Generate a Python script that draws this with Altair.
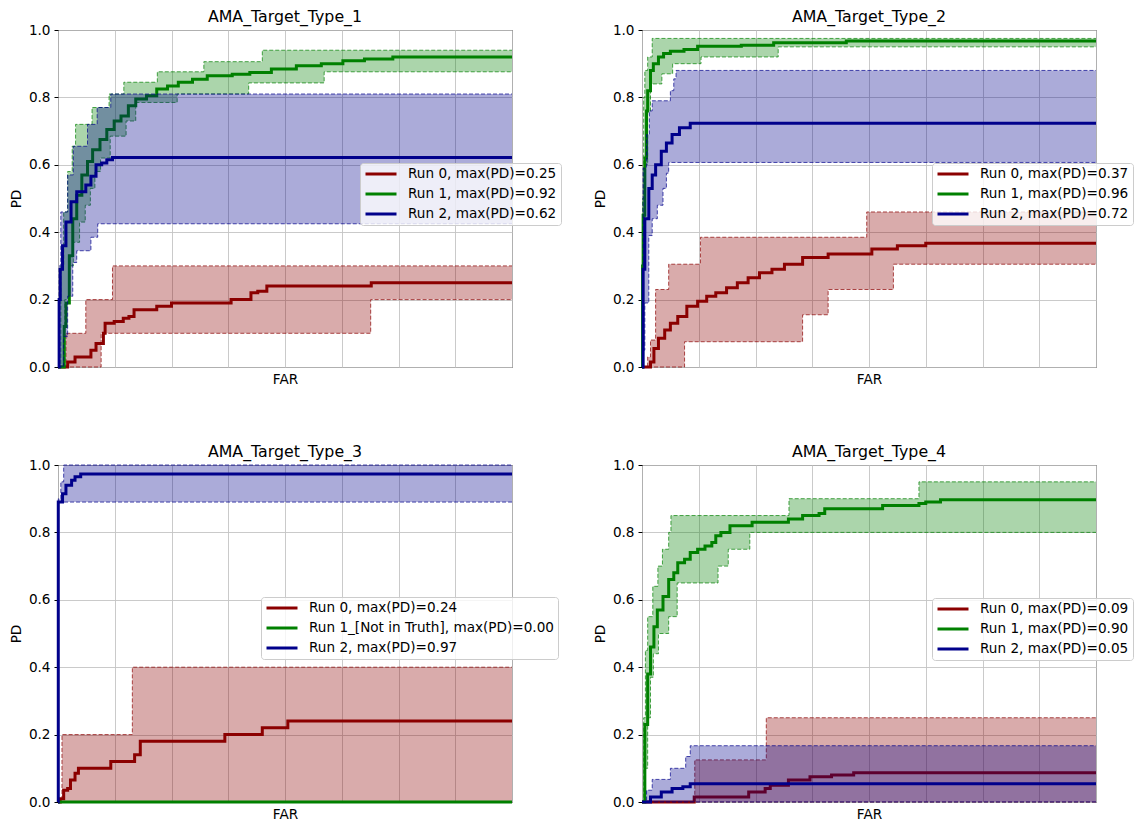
import altair as alt
import pandas as pd

# ---------------- data (FAR in grid units 0..8, PD 0..1) ----------------
FAR_TICKS = [0, 1, 2, 3, 4, 5, 6, 7, 8]
PD_TICKS = [0.0, 0.2, 0.4, 0.6, 0.8, 1.0]
RUN_COLORS = ["#8b0000", "#008000", "#00008b"]

TITLES = ["AMA_Target_Type_1", "AMA_Target_Type_2", "AMA_Target_Type_3", "AMA_Target_Type_4"]

LABELS_T1 = ["Run 0, max(PD)=0.25", "Run 1, max(PD)=0.92", "Run 2, max(PD)=0.62"]
LABELS_T2 = ["Run 0, max(PD)=0.37", "Run 1, max(PD)=0.96", "Run 2, max(PD)=0.72"]
LABELS_T3 = ["Run 0, max(PD)=0.24", "Run 1_[Not in Truth], max(PD)=0.00", "Run 2, max(PD)=0.97"]
LABELS_T4 = ["Run 0, max(PD)=0.09", "Run 1, max(PD)=0.90", "Run 2, max(PD)=0.05"]

# --- Target type 1 ---
T1_R0_MEAN = [(0, 0), (0.17, 0.015), (0.3, 0.03), (0.58, 0.05), (0.67, 0.07), (0.8, 0.10), (0.83, 0.13),
              (0.99, 0.135), (1.15, 0.145), (1.25, 0.15), (1.34, 0.17), (1.74, 0.18), (2.0, 0.19),
              (3.05, 0.2), (3.4, 0.22), (3.52, 0.225), (3.68, 0.24), (5.52, 0.25), (8, 0.25)]
T1_R0_HI = [(0, 0), (0.14, 0.1), (0.49, 0.2), (0.96, 0.3), (8, 0.3)]
T1_R0_LO = [(0, 0), (0.76, 0.1), (5.51, 0.2), (8, 0.2)]

T1_R1_MEAN = [(0, 0), (0.08, 0.0), (0.11, 0.12), (0.14, 0.19), (0.2, 0.33), (0.26, 0.44), (0.33, 0.51),
              (0.42, 0.57), (0.52, 0.61), (0.61, 0.645), (0.74, 0.675), (0.86, 0.705), (0.99, 0.73),
              (1.11, 0.745), (1.24, 0.775), (1.37, 0.795), (1.56, 0.805), (1.74, 0.825), (1.93, 0.834),
              (2.12, 0.845), (2.37, 0.854), (2.63, 0.864), (3.07, 0.869), (3.38, 0.874), (3.76, 0.884),
              (4.2, 0.894), (4.64, 0.9), (5.02, 0.909), (5.4, 0.914), (5.9, 0.92), (8, 0.92)]
T1_R1_HI = [(0, 0), (0.05, 0.3), (0.1, 0.46), (0.17, 0.58), (0.25, 0.655), (0.31, 0.72), (0.6, 0.77),
            (0.9, 0.81), (1.16, 0.845), (1.75, 0.876), (2.57, 0.906), (3.6, 0.94), (8, 0.94)]
T1_R1_LO = [(0, 0), (0.1, 0.0), (0.12, 0.2), (0.2, 0.3), (0.27, 0.37), (0.38, 0.43), (0.48, 0.48),
            (0.57, 0.53), (0.65, 0.58), (0.75, 0.62), (0.92, 0.685), (1.2, 0.73), (1.37, 0.785),
            (2.1, 0.81), (3.36, 0.843), (4.69, 0.876), (8, 0.876)]

T1_R2_MEAN = [(0, 0), (0.02, 0.2), (0.04, 0.29), (0.08, 0.36), (0.14, 0.43), (0.23, 0.49), (0.33, 0.52),
              (0.49, 0.54), (0.58, 0.566), (0.67, 0.6), (0.77, 0.605), (0.86, 0.615), (0.96, 0.622), (8, 0.622)]
T1_R2_HI = [(0, 0), (0.02, 0.3), (0.05, 0.46), (0.17, 0.57), (0.27, 0.655), (0.52, 0.72), (0.69, 0.77),
            (0.93, 0.81), (8, 0.81)]
T1_R2_LO = [(0, 0), (0.08, 0.0), (0.1, 0.09), (0.17, 0.21), (0.26, 0.31), (0.33, 0.345), (0.58, 0.385),
            (0.7, 0.425), (8, 0.425)]

# --- Target type 2 ---
T2_R0_MEAN = [(0, 0), (0.08, 0), (0.15, 0.015), (0.21, 0.055), (0.29, 0.085), (0.4, 0.11), (0.5, 0.13),
              (0.63, 0.15), (0.79, 0.18), (0.98, 0.195), (1.14, 0.21), (1.3, 0.22), (1.49, 0.235),
              (1.68, 0.25), (1.87, 0.265), (2.07, 0.28), (2.29, 0.29), (2.51, 0.305), (2.83, 0.325),
              (3.28, 0.335), (4.05, 0.35), (4.5, 0.36), (5.0, 0.367), (8, 0.367)]
T2_R0_HI = [(0, 0), (0.1, 0.03), (0.15, 0.08), (0.24, 0.23), (0.47, 0.305), (1.03, 0.385), (3.96, 0.46), (8, 0.46)]
T2_R0_LO = [(0, 0), (0.75, 0.075), (2.83, 0.155), (3.28, 0.23), (4.43, 0.305), (8, 0.305)]

T2_R1_MEAN = [(0, 0), (0.01, 0.3), (0.02, 0.45), (0.05, 0.62), (0.08, 0.76), (0.1, 0.82), (0.15, 0.88),
              (0.2, 0.9), (0.29, 0.92), (0.38, 0.93), (0.5, 0.937), (0.74, 0.942), (0.98, 0.952),
              (1.75, 0.955), (2.32, 0.962), (3.6, 0.967), (8, 0.967)]
T2_R1_HI = [(0, 0), (0.01, 0.5), (0.03, 0.8), (0.05, 0.88), (0.1, 0.92), (0.18, 0.975), (8, 0.975)]
T2_R1_LO = [(0, 0), (0.02, 0.3), (0.05, 0.6), (0.1, 0.76), (0.15, 0.84), (0.35, 0.87), (0.54, 0.9),
            (1.04, 0.92), (2.4, 0.95), (8, 0.95)]

T2_R2_MEAN = [(0, 0), (0.02, 0.29), (0.05, 0.44), (0.12, 0.53), (0.18, 0.57), (0.24, 0.6), (0.34, 0.64),
              (0.43, 0.665), (0.53, 0.69), (0.66, 0.71), (0.85, 0.723), (8, 0.723)]
T2_R2_HI = [(0, 0), (0.02, 0.59), (0.08, 0.69), (0.13, 0.76), (0.18, 0.79), (0.5, 0.82), (0.56, 0.855),
            (0.6, 0.88), (8, 0.88)]
T2_R2_LO = [(0, 0), (0.02, 0.05), (0.05, 0.19), (0.12, 0.39), (0.18, 0.44), (0.27, 0.48), (0.37, 0.53),
            (0.43, 0.575), (0.47, 0.607), (8, 0.607)]

# --- Target type 3 ---
T3_R0_MEAN = [(0, 0), (0.04, 0.01), (0.1, 0.035), (0.17, 0.04), (0.22, 0.065), (0.3, 0.085), (0.36, 0.1),
              (0.93, 0.12), (1.35, 0.14), (1.45, 0.18), (2.94, 0.2), (3.6, 0.22), (4.05, 0.24), (8, 0.24)]
T3_R0_HI = [(0, 0), (0.07, 0.2), (1.31, 0.4), (8, 0.4)]
T3_R0_LO = [(0, 0), (8, 0)]

T3_R1_MEAN = [(0, 0), (8, 0)]

T3_R2_MEAN = [(0, 0), (0.005, 0.89), (0.08, 0.915), (0.14, 0.94), (0.24, 0.955), (0.3, 0.965),
              (0.4, 0.973), (8, 0.973)]
T3_R2_HI = [(0, 0), (0.005, 0.9), (0.05, 0.95), (0.1, 1.0), (8, 1.0)]
T3_R2_LO = [(0, 0), (0.005, 0.89), (8, 0.89)]

# --- Target type 4 ---
T4_R0_MEAN = [(0, 0), (0.92, 0.015), (1.88, 0.03), (2.17, 0.04), (2.26, 0.05), (2.58, 0.065),
              (2.96, 0.075), (3.34, 0.08), (3.73, 0.087), (8, 0.087)]
T4_R0_HI = [(0, 0), (0.93, 0.125), (2.19, 0.25), (8, 0.25)]
T4_R0_LO = [(0, 0), (8, 0)]

T4_R1_MEAN = [(0, 0), (0.02, 0.0), (0.05, 0.23), (0.1, 0.38), (0.15, 0.46), (0.21, 0.52), (0.27, 0.57),
              (0.37, 0.61), (0.47, 0.66), (0.56, 0.68), (0.63, 0.71), (0.75, 0.72), (0.85, 0.74),
              (0.98, 0.75), (1.11, 0.76), (1.23, 0.77), (1.3, 0.79), (1.39, 0.8), (1.55, 0.82),
              (1.94, 0.83), (2.58, 0.84), (2.83, 0.85), (3.12, 0.856), (3.22, 0.87), (4.24, 0.88),
              (4.88, 0.886), (5.0, 0.89), (5.26, 0.897), (8, 0.897)]
T4_R1_HI = [(0, 0), (0.03, 0.25), (0.06, 0.45), (0.1, 0.55), (0.19, 0.64), (0.28, 0.7), (0.36, 0.75),
            (0.47, 0.8), (0.51, 0.85), (2.59, 0.9), (4.88, 0.95), (8, 0.95)]
T4_R1_LO = [(0, 0), (0.05, 0.1), (0.1, 0.25), (0.15, 0.37), (0.2, 0.44), (0.29, 0.5), (0.47, 0.55),
            (0.62, 0.65), (1.34, 0.7), (1.52, 0.75), (1.9, 0.8), (8, 0.8)]

T4_R2_MEAN = [(0, 0), (0.15, 0.015), (0.34, 0.03), (0.53, 0.04), (0.72, 0.045), (0.85, 0.054), (8, 0.054)]
T4_R2_HI = [(0, 0), (0.08, 0.035), (0.18, 0.067), (0.5, 0.1), (0.77, 0.135), (0.85, 0.167), (8, 0.167)]
T4_R2_LO = [(0, 0), (8, 0)]

FONT = "DejaVu Sans"


def step_at(points, x):
    v = points[0][1]
    for px, py in points:
        if px <= x:
            v = py
        else:
            break
    return v


def band_frame(hi, lo):
    xs = sorted(set([p[0] for p in hi] + [p[0] for p in lo]))
    return pd.DataFrame({"x": xs,
                         "lo": [step_at(lo, x) for x in xs],
                         "hi": [step_at(hi, x) for x in xs]})


def edge_frame(hi, lo):
    rows = [{"x": x, "y": y, "edge": "hi"} for x, y in hi]
    rows += [{"x": x, "y": y, "edge": "lo"} for x, y in lo]
    return pd.DataFrame(rows)


def panel(title, labels, runs, legend_x, legend_y):
    cscale = alt.Scale(domain=labels, range=RUN_COLORS)
    xenc = alt.X("x:Q", scale=alt.Scale(domain=[0, 8], nice=False, zero=False),
                 axis=alt.Axis(values=FAR_TICKS, labels=False, ticks=False, domain=False,
                               grid=True, title="FAR", titlePadding=5))
    yaxis = alt.Axis(values=PD_TICKS, format=".1f", title="PD", domain=False, grid=True,
                     tickSize=4, labelPadding=4, titlePadding=5)
    yscale = alt.Scale(domain=[0, 1], nice=False)
    legend = alt.Legend(orient="none", legendX=legend_x, legendY=legend_y, title=None,
                        symbolType="stroke", symbolStrokeWidth=3, symbolSize=961,
                        clipHeight=14, rowPadding=6, labelOffset=10, labelLimit=400,
                        labelFontSize=13.6, labelColor="black",
                        fillColor="rgba(255,255,255,0.8)", strokeColor="#cccccc",
                        cornerRadius=3, padding=4)
    layers = []
    for i, (label, (mean, hi, lo)) in enumerate(zip(labels, runs)):
        col = RUN_COLORS[i]
        if hi is not None:
            layers.append(
                alt.Chart(band_frame(hi, lo)).mark_area(interpolate="step-after", opacity=0.33, color=col)
                .encode(x=xenc, y=alt.Y("lo:Q", scale=yscale, axis=yaxis), y2="hi:Q")
            )
            layers.append(
                alt.Chart(edge_frame(hi, lo))
                .mark_line(interpolate="step-after", strokeWidth=1, strokeDash=[4, 2], opacity=0.7, color=col)
                .encode(x=xenc, y=alt.Y("y:Q", scale=yscale, axis=yaxis), detail="edge:N")
            )
        md = pd.DataFrame(mean, columns=["x", "y"]).assign(label=label)
        layers.append(
            alt.Chart(md).mark_line(interpolate="step-after", strokeWidth=3)
            .encode(x=xenc, y=alt.Y("y:Q", scale=yscale, axis=yaxis),
                    color=alt.Color("label:N", scale=cscale, legend=legend))
        )
    return alt.layer(*layers).properties(width=454, height=337, title=title)


p1 = panel(TITLES[0], LABELS_T1, [(T1_R0_MEAN, T1_R0_HI, T1_R0_LO), (T1_R1_MEAN, T1_R1_HI, T1_R1_LO),
                                   (T1_R2_MEAN, T1_R2_HI, T1_R2_LO)], 302, 133)
p2 = panel(TITLES[1], LABELS_T2, [(T2_R0_MEAN, T2_R0_HI, T2_R0_LO), (T2_R1_MEAN, T2_R1_HI, T2_R1_LO),
                                   (T2_R2_MEAN, T2_R2_HI, T2_R2_LO)], 290, 133)
p3 = panel(TITLES[2], LABELS_T3, [(T3_R0_MEAN, T3_R0_HI, T3_R0_LO), (T3_R1_MEAN, None, None),
                                   (T3_R2_MEAN, T3_R2_HI, T3_R2_LO)], 203, 132)
p4 = panel(TITLES[3], LABELS_T4, [(T4_R0_MEAN, T4_R0_HI, T4_R0_LO), (T4_R1_MEAN, T4_R1_HI, T4_R1_LO),
                                   (T4_R2_MEAN, T4_R2_HI, T4_R2_LO)], 290, 133)

chart = (
    alt.concat(p1, p2, p3, p4, columns=2, spacing={"row": 98, "column": 130}, bounds="flush")
    .resolve_scale(color="independent", x="independent", y="independent")
    .resolve_legend(color="independent")
    .properties(padding=0)
    .configure(font=FONT)
    .configure_view(stroke="black", strokeWidth=1)
    .configure_axis(labelFont=FONT, titleFont=FONT, labelFontSize=13.6, titleFontSize=13.6,
                    labelColor="black", titleColor="black", titleFontWeight="normal",
                    gridColor="#c4c4c4", gridWidth=0.9, tickColor="black")
    .configure_legend(labelFont=FONT)
    .configure_title(font=FONT, fontSize=15.8, fontWeight="normal", color="black",
                     anchor="middle", offset=-3)
)

chart.save("out.html", embed_options={"renderer": "svg", "actions": False})
